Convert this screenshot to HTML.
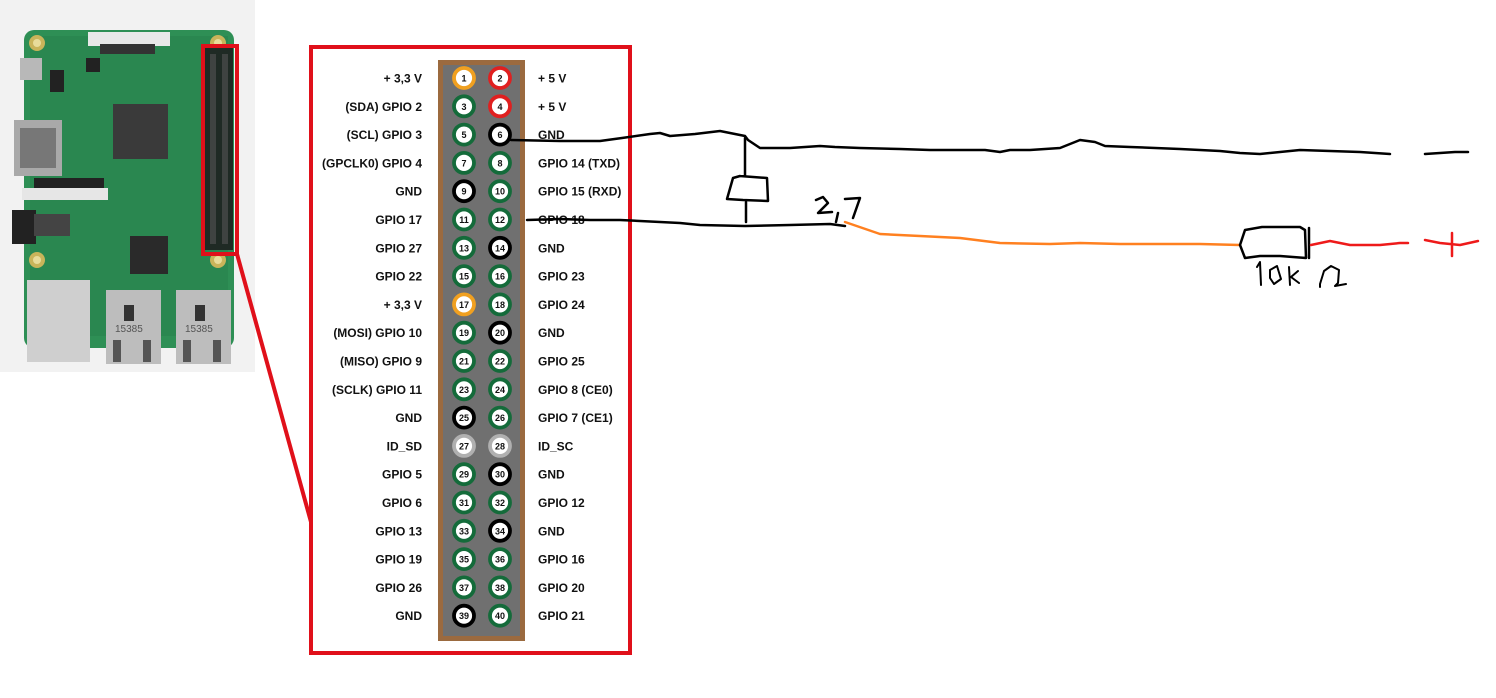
<!DOCTYPE html>
<html><head><meta charset="utf-8"><style>
html,body{margin:0;padding:0;background:#fff;}
svg{display:block;}
text{font-family:"Liberation Sans",Arial,sans-serif;}
.l{font-size:12px;font-weight:bold;fill:#111;}
.n{font-size:9px;font-weight:bold;fill:#111;text-anchor:middle;}
</style></head><body>
<svg width="1496" height="698" viewBox="0 0 1496 698" xmlns="http://www.w3.org/2000/svg">
<rect x="0" y="0" width="255" height="372" fill="#f2f2f2"/>
<rect x="24" y="30" width="210" height="318" rx="10" fill="#2e8f55"/>
<rect x="30" y="36" width="198" height="300" fill="#2a8750"/>
<circle cx="37" cy="43" r="8" fill="#c9b45a"/><circle cx="37" cy="43" r="4" fill="#e8dc9a"/>
<circle cx="218" cy="43" r="8" fill="#c9b45a"/><circle cx="218" cy="43" r="4" fill="#e8dc9a"/>
<circle cx="37" cy="260" r="8" fill="#c9b45a"/><circle cx="37" cy="260" r="4" fill="#e8dc9a"/>
<circle cx="218" cy="260" r="8" fill="#c9b45a"/><circle cx="218" cy="260" r="4" fill="#e8dc9a"/>
<rect x="88" y="32" width="82" height="14" fill="#e8e8e8"/>
<rect x="100" y="44" width="55" height="10" fill="#333"/>
<rect x="20" y="58" width="22" height="22" fill="#b8b8b8"/>
<rect x="14" y="120" width="48" height="56" fill="#a9a9a9"/>
<rect x="20" y="128" width="36" height="40" fill="#777"/>
<rect x="22" y="188" width="86" height="12" fill="#e6e6e6"/>
<rect x="34" y="178" width="70" height="10" fill="#222"/>
<rect x="12" y="210" width="24" height="34" fill="#222"/>
<rect x="34" y="214" width="36" height="22" fill="#444"/>
<rect x="113" y="104" width="55" height="55" fill="#3a3a3a"/>
<rect x="130" y="236" width="38" height="38" fill="#2a2a2a"/>
<rect x="50" y="70" width="14" height="22" fill="#222"/>
<rect x="86" y="58" width="14" height="14" fill="#222"/>
<rect x="205" y="48" width="28" height="202" fill="#1f2a24"/>
<g fill="#555">
<rect x="210" y="54" width="6" height="190" opacity=".6"/><rect x="222" y="54" width="6" height="190" opacity=".6"/>
</g>
<rect x="27" y="280" width="63" height="82" fill="#cfcfcf"/>
<rect x="106" y="290" width="55" height="74" fill="#bdbdbd"/>
<rect x="176" y="290" width="55" height="74" fill="#bdbdbd"/>
<text x="115" y="332" font-size="10" fill="#555">15385</text>
<text x="185" y="332" font-size="10" fill="#555">15385</text>
<rect x="124" y="305" width="10" height="16" fill="#333"/>
<rect x="195" y="305" width="10" height="16" fill="#333"/>
<rect x="113" y="340" width="8" height="22" fill="#555"/><rect x="143" y="340" width="8" height="22" fill="#555"/>
<rect x="183" y="340" width="8" height="22" fill="#555"/><rect x="213" y="340" width="8" height="22" fill="#555"/>

<rect x="203" y="46" width="34" height="208" fill="none" stroke="#e0101a" stroke-width="4"/>
<line x1="237" y1="254" x2="311" y2="522" stroke="#e0101a" stroke-width="4"/>
<rect x="311" y="47" width="319" height="606" fill="none" stroke="#e0101a" stroke-width="4"/>

<rect x="438" y="60" width="87" height="581" fill="#9b6a3f"/>
<rect x="443" y="65" width="77" height="571" fill="#707070"/>

<g id="pins" stroke-width="3.5">
</g>
<script>
(function(){
var ns="http://www.w3.org/2000/svg",g=document.getElementById('pins');
var L=["+ 3,3 V","(SDA) GPIO 2","(SCL) GPIO 3","(GPCLK0) GPIO 4","GND","GPIO 17","GPIO 27","GPIO 22","+ 3,3 V","(MOSI) GPIO 10","(MISO) GPIO 9","(SCLK) GPIO 11","GND","ID_SD","GPIO 5","GPIO 6","GPIO 13","GPIO 19","GPIO 26","GND"];
var R=["+ 5 V","+ 5 V","GND","GPIO 14 (TXD)","GPIO 15 (RXD)","GPIO 18","GND","GPIO 23","GPIO 24","GND","GPIO 25","GPIO 8 (CE0)","GPIO 7 (CE1)","ID_SC","GND","GPIO 12","GND","GPIO 16","GPIO 20","GPIO 21"];
function col(n){if(n==1||n==17)return"#f0a020";if(n==2||n==4)return"#e02020";if([6,9,14,20,25,30,34,39].indexOf(n)>=0)return"#000";if(n==27||n==28)return"#b0b0b0";return"#146b3a";}
for(var i=0;i<20;i++){
 var y=78+i*28.3;
 [[464,2*i+1],[500,2*i+2]].forEach(function(p){
  var c=document.createElementNS(ns,'circle');c.setAttribute('cx',p[0]);c.setAttribute('cy',y);c.setAttribute('r',10);
  c.setAttribute('fill','#fff');c.setAttribute('stroke',col(p[1]));c.setAttribute('stroke-width',3.8);g.appendChild(c);
  var t=document.createElementNS(ns,'text');t.setAttribute('x',p[0]);t.setAttribute('y',y+3.5);t.setAttribute('class','n');t.textContent=p[1];g.appendChild(t);
 });
 var a=document.createElementNS(ns,'text');a.setAttribute('x',422);a.setAttribute('y',y+4.5);a.setAttribute('class','l');a.setAttribute('text-anchor','end');a.textContent=L[i];g.appendChild(a);
 var b=document.createElementNS(ns,'text');b.setAttribute('x',538);b.setAttribute('y',y+4.5);b.setAttribute('class','l');b.textContent=R[i];g.appendChild(b);
}
})();
</script>

<g fill="none" stroke-linecap="round" stroke-linejoin="round" stroke-width="2.5">
<path d="M511,140 L560,141 L600,141 L622,138 L650,134 L660,133 L670,136 L695,134 L720,131 L745,136 L748,140 L760,148 L790,148 L820,146 L835,147 L860,148 L900,149 L930,150 L960,150 L985,150 L1000,152 L1010,150 L1030,150 L1060,148 L1065,146 L1080,140 L1095,142 L1105,146 L1130,147 L1180,149 L1200,150 L1220,151 L1240,153 L1260,154 L1300,150 L1330,151 L1360,152 L1390,154" stroke="#000"/>
<path d="M1425,154 L1440,153 L1455,152 L1468,152" stroke="#000"/>
<path d="M745,138 L745,176" stroke="#000"/>
<path d="M740,176 L767,178 L768,201 L743,200 L727,199 L733,178 L740,176" stroke="#000"/>
<path d="M746,202 L746,222" stroke="#000"/>
<path d="M527,220 L560,219 L590,220 L620,220 L680,223 L700,225 L745,226 L790,225 L830,224 L845,226" stroke="#000"/>
<path d="M845,222 L880,234 L920,236 L960,238 L1000,243 L1050,244 L1080,243 L1120,244 L1160,244 L1200,244 L1240,245" stroke="#ff8020"/>
<path d="M1240,245 L1245,230 L1262,227 L1300,227 L1305,230 L1306,258 L1280,256 L1260,256 L1245,258 L1240,245" stroke="#000"/>
<path d="M1309,228 L1309,258" stroke="#000"/>
<path d="M1311,245 L1330,241 L1350,245 L1380,245 L1400,243 L1408,243" stroke="#ee1a1a"/>
<path d="M1425,240 L1440,243 L1460,245 L1478,241 M1452,233 L1452,256" stroke="#ee1a1a"/>
<path d="M816,200 L823,197 L828,203 L818,213 L832,212 M838,213 L836,222 M845,199 L860,198 L853,218" stroke="#000"/>
<path d="M1257,267 L1260,262 L1261,285 M1270,270 L1277,266 L1281,279 L1274,284 L1270,278 L1270,270 M1289,267 L1290,285 M1298,271 L1291,277 L1299,283 M1320,287 L1320,284 L1324,271 L1331,266 L1339,270 L1338,283 L1335,286 L1346,284" stroke="#000" stroke-width="2"/>
</g>
</svg>
</body></html>
